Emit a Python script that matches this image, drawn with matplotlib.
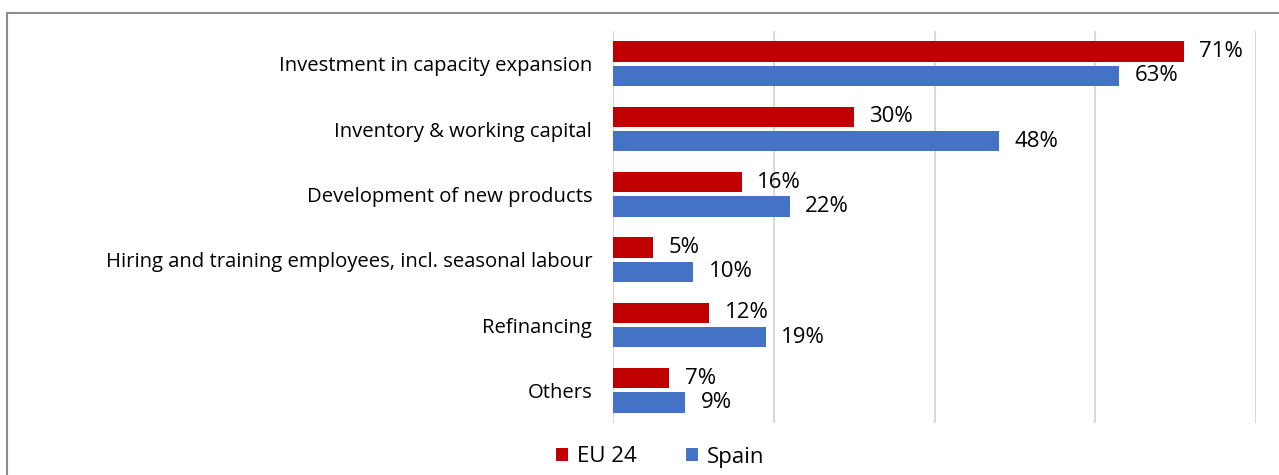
import matplotlib.pyplot as plt
from matplotlib.patches import Rectangle
import numpy as np

categories = [
    "Investment in capacity expansion",
    "Inventory & working capital",
    "Development of new products",
    "Hiring and training employees, incl. seasonal labour",
    "Refinancing",
    "Others",
]
eu24 = [71, 30, 16, 5, 12, 7]
spain = [63, 48, 22, 10, 19, 9]

RED = "#C00000"
BLUE = "#4472C4"

plt.rcParams['font.family'] = ['Open Sans', 'DejaVu Sans']

W, H = 1279, 475
fig = plt.figure(figsize=(W / 100, H / 100), dpi=100)
ax = fig.add_axes([613 / W, 1 - 423 / H, (1256 - 613) / W, (423 - 31) / H])

y = np.arange(len(categories))
bh = 0.31
gap = 0.06
ax.barh(y - (bh + gap) / 2, eu24, height=bh, color=RED, label="EU 24", zorder=3)
ax.barh(y + (bh + gap) / 2, spain, height=bh, color=BLUE, label="Spain", zorder=3)

for yi, v in zip(y, eu24):
    ax.text(v + 1.9, yi - (bh + gap) / 2, f"{v}%", va="center", ha="left", fontsize=16)
for yi, v in zip(y, spain):
    ax.text(v + 1.9, yi + (bh + gap) / 2, f"{v}%", va="center", ha="left", fontsize=16)

ax.set_xlim(0, 80)
ax.set_ylim(len(categories) - 0.5, -0.5)
ax.set_xticks([0, 20, 40, 60, 80])
ax.set_xticklabels([])
ax.tick_params(axis="x", length=0)
ax.tick_params(axis="y", length=0, pad=15, labelsize=14.6)
ax.set_yticks(y)
ax.set_yticklabels(categories)
ax.grid(axis="x", color="#D9D9D9", linewidth=1.5, zorder=0)
for s in ax.spines.values():
    s.set_visible(False)

leg = fig.legend(loc="center", bbox_to_anchor=(660 / W, 1 - 457 / H), ncol=2,
                 frameon=False, fontsize=16, handlelength=0.55, handleheight=0.55,
                 handletextpad=0.4, columnspacing=2.2)

# outer frame
fig.patches.append(Rectangle((7 / W, -0.1), 1.2, 1 - 13 / H + 0.1, transform=fig.transFigure,
                             fill=False, edgecolor="#8C8C8C", linewidth=1.5))

fig.savefig("out.png", dpi=100)
